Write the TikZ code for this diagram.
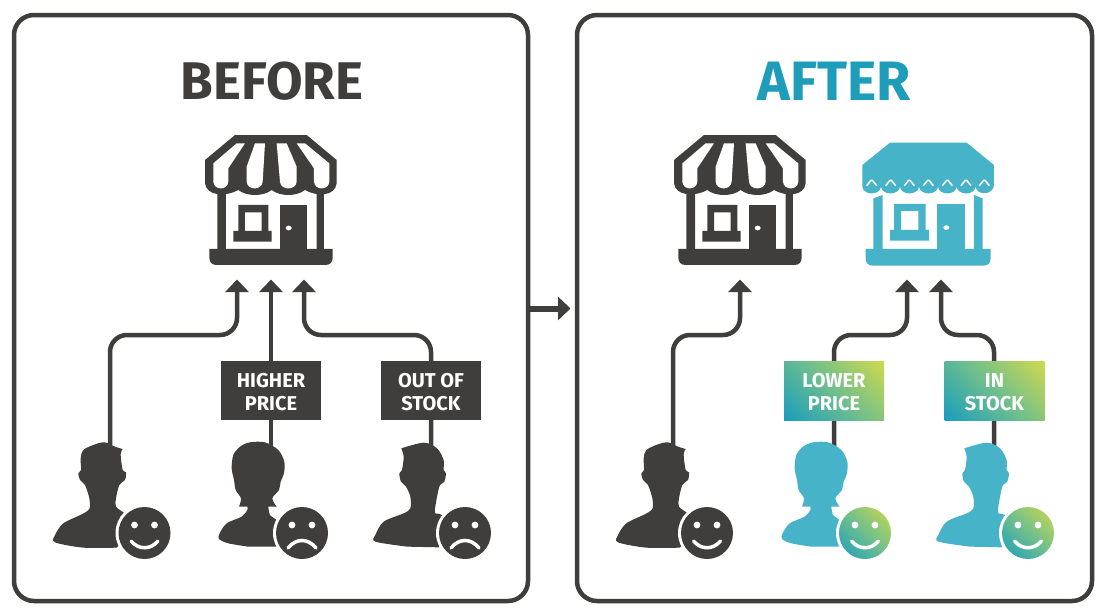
\documentclass[tikz,border=0pt]{standalone}
\usepackage{fontspec}
\setmainfont{Fira Sans}
\usetikzlibrary{arrows.meta,calc}
\definecolor{dk}{HTML}{3F3E3C}
\definecolor{bl}{HTML}{47B3C9}
\definecolor{tl}{HTML}{1E9DBB}
\definecolor{gA}{HTML}{1A9DBD}
\definecolor{gB}{HTML}{6FBF8C}
\definecolor{gC}{HTML}{CFD94D}
\pgfdeclarehorizontalshading{tealgrad}{100bp}{color(0bp)=(gA);color(15bp)=(gA);color(50bp)=(gB);color(85bp)=(gC);color(100bp)=(gC)}
\newcommand{\lift}{\rule{0pt}{17pt}}
\tikzset{
 panel/.style={draw=dk,line width=4.5pt,rounded corners=20pt,fill=white},
 tip/.style={-{Triangle[width=23pt,length=12.5pt]}},
 conn/.style={draw=dk,line width=4.5pt,rounded corners=17pt,tip},
 labelbox/.style={minimum width=100pt,minimum height=59pt,inner sep=0pt,align=center,text=white,font=\fontsize{20}{23}\selectfont\bfseries},
 darkbox/.style={labelbox,fill=dk},
 gradbox/.style={labelbox,shading=tealgrad,shading angle=45},
 title/.style={font=\fontsize{#1}{60}\selectfont\bfseries},
 zoomu/.style={x=0.3333pt,y=-0.3333pt},
 lay/.style={line cap=round,draw=white,line width=3.5pt,fill=none},
}
% store with striped awning
\newcommand{\storeA}[2]{\begin{scope}[shift={(#1,#2)},zoomu]
 \fill[dk] (135,30)--(350,30)--(440,105)--(440,175) .. controls (435,215) and (380,215) .. (345,195)
   .. controls (320,215) and (270,215) .. (245,195) .. controls (220,215) and (170,215) .. (145,195)
   .. controls (110,215) and (50,215) .. (45,175) -- (45,105) -- cycle;
 \fill[white] (70,115)--(140,55)--(165,55)--(115,130)--(115,170) .. controls (113,197) and (72,197) .. (70,170) --cycle;
 \fill[white] (195,55)--(225,55)--(218,170) .. controls (216,197) and (172,197) .. (170,170) -- (170,125)--cycle;
 \fill[white] (260,55)--(290,55)--(320,125)--(320,170) .. controls (318,197) and (272,197) .. (270,170)--cycle;
 \fill[white] (320,55)--(345,55)--(418,115)--(418,170) .. controls (416,197) and (374,197) .. (372,170)--(372,130)--cycle;
 \fill[dk] (82,200)--(108,207)--(108,380)--(82,380)--cycle;
 \fill[dk] (380,207)--(402,200)--(402,380)--(380,380)--cycle;
 \fill[dk] (58,372)--(428,372)--(428,398) .. controls (428,412) and (420,420) .. (406,420) -- (80,420) .. controls (66,420) and (58,412) .. (58,398) --cycle;
 \fill[dk,even odd rule] (145,240)--(235,240)--(235,318)--(245,318)--(245,350)--(130,350)--(130,318)--(145,318)--cycle
   (165,262)--(215,262)--(215,318)--(165,318)--cycle;
 \fill[dk] (270,240)--(352,240)--(352,375)--(270,375)--cycle;
 \fill[white] (296,309) ellipse[x radius=9,y radius=7];
\end{scope}}
% store with solid awning
\newcommand{\storeB}[2]{\begin{scope}[shift={(#1,#2)},zoomu]
 \fill[bl] (120,38)--(350,38)--(432,105)--(432,165)
   \foreach \a/\b in {433/377,377/320,320/264,264/207,207/150,150/93,93/37}{
     .. controls (\a-3,197) and (\b+3,197) .. (\b,170)}
   -- (37,105)--cycle;
 \foreach \c in {65,122,178,235,292,348,403}{
   \draw[white,line width=1.5pt] (\c-15,167)--(\c-2,151)--(\c+2,151)--(\c+15,167);}
 \fill[bl] (70,205)--(98,195)--(98,360)--(70,360)--cycle;
 \fill[bl] (372,195)--(398,205)--(398,360)--(372,360)--cycle;
 \fill[bl] (47,357)--(422,357)--(422,385) .. controls (422,399) and (414,407) .. (400,407) -- (69,407) .. controls (55,407) and (47,399) .. (47,385) --cycle;
 \fill[bl,even odd rule] (132,222)--(227,222)--(227,300)--(237,300)--(237,332)--(120,332)--(120,300)--(132,300)--cycle
   (153,243)--(205,243)--(205,300)--(153,300)--cycle;
 \fill[bl] (262,222)--(345,222)--(345,360)--(262,360)--cycle;
 \fill[white] (289,293) ellipse[x radius=9,y radius=7];
\end{scope}}
% people: #1 x, #2 y of the crop origin, #3 colour
\newcommand{\manA}[3]{\begin{scope}[shift={(#1,#2)},zoomu]
 \fill[#3] plot[smooth,tension=0.5] coordinates {(218,42)(195,35)(165,22)(135,28)(100,45)(92,70)(93,105)(85,115)(90,135)(105,150)(118,190)(118,222)(95,238)(40,265)(15,300)(15,322)(100,338)(200,338)}
  -- (235,300) -- (225,235)
  -- plot[smooth,tension=0.5] coordinates {(225,235)(198,215)(198,190)(208,150)(225,135)(228,112)(218,105)(212,58)(218,42)} -- cycle;
\end{scope}}
\newcommand{\womanA}[3]{\begin{scope}[shift={(#1,#2)},zoomu]
 \fill[#3] plot[smooth,tension=0.5] coordinates {(72,215)(78,190)(62,165)(57,135)(50,100)(55,60)(75,35)(105,22)(150,22)(190,45)(208,80)(207,115)(197,140)(192,165)(172,190)(185,215)}
  -- (160,215) -- plot[smooth,tension=0.5] coordinates {(160,215)(165,240)(185,255)(200,280)(190,335)}
  -- (100,335) -- plot[smooth,tension=0.5] coordinates {(100,335)(40,325)(12,312)(14,295)(35,265)(80,245)(97,225)(97,215)} -- cycle;
\end{scope}}
\newcommand{\manB}[3]{\begin{scope}[shift={(#1,#2)},zoomu]
 \fill[#3] plot[smooth,tension=0.5] coordinates {(583,295)(650,278)(690,295)(710,330)(710,360)(717,370)(712,395)(697,410)(685,470)(685,490)(705,495)(730,540)(695,592)}
  -- (600,590) -- plot[smooth,tension=0.5] coordinates {(600,590)(505,575)(505,555)(530,515)(590,490)(610,475)(610,440)(597,410)(582,395)(577,370)(585,360)(590,320)(583,295)} -- cycle;
\end{scope}}
% faces: #1 centre name, #2 mood
\newcommand{\eyesmouth}[2]{%
 \fill[white] ($(#1)+(-10,-8)$) circle[radius=3.4pt] ($(#1)+(10,-8)$) circle[radius=3.4pt];
 \ifnum#2=1
  \draw[lay] ($(#1)+(-13.5,8)$) .. controls ($(#1)+(-6,17)$) and ($(#1)+(6,17)$) .. ($(#1)+(13.5,8)$);
 \else
  \draw[lay] ($(#1)+(-14,15)$) .. controls ($(#1)+(-6,5)$) and ($(#1)+(6,5)$) .. ($(#1)+(14,15)$);
 \fi}
\begin{document}
\begin{tikzpicture}[x=1pt,y=-1pt]
\useasboundingbox (0,0) rectangle (1101,614);
\fill[white] (0,0) rectangle (1101,614);
\draw[panel] (14,15) rectangle (528,601);
\draw[panel] (577,15) rectangle (1092,601);
\node[title=53,text=dk] (tb) at (272,81) {BEFORE};
\node[title=55.5,text=tl] (ta) at (834,81) {AFTER};
% shops
\storeA{190}{125}
\storeA{659}{125}
\storeB{850}{130}
% anchors
\coordinate (bus) at (0,335);
\coordinate (hb1) at (110,450); \coordinate (hb2) at (271,450); \coordinate (hb3) at (431,450);
\coordinate (ha1) at (673,450); \coordinate (ha2) at (834,450); \coordinate (ha3) at (994,450);
\coordinate (tb1) at (237,279.5); \coordinate (tb2) at (271,279.5); \coordinate (tb3) at (304,279.5);
\coordinate (ta1) at (740,279.5); \coordinate (ta2) at (907,279.5); \coordinate (ta3) at (941,279.5);
% connectors
\draw[conn] (hb1) -- (hb1|-bus) -- (tb1|-bus) -- (tb1);
\draw[conn] (hb2) -- (tb2);
\draw[conn] (hb3) -- (hb3|-bus) -- (tb3|-bus) -- (tb3);
\draw[conn] (ha1) -- (ha1|-bus) -- (ta1|-bus) -- (ta1);
\draw[conn] (ha2) -- (ha2|-bus) -- (ta2|-bus) -- (ta2);
\draw[conn] (ha3) -- (ha3|-bus) -- (ta3|-bus) -- (ta3);
% labels
\node[darkbox] (lb2) at (271,390.5) {\lift HIGHER\\PRICE};
\node[darkbox] (lb3) at (431,390.5) {\lift OUT OF\\STOCK};
\node[gradbox] (la2) at (834,390.5) {\lift LOWER\\PRICE};
\node[gradbox] (la3) at (994.5,390.5) {\lift IN\\STOCK};
% people
\manA{50}{435}{dk}
\womanA{215}{435}{dk}
\manB{207}{350}{dk}
\manA{613}{435}{dk}
\womanA{778}{435}{bl}
\manB{770}{350}{bl}
% faces
\foreach \n/\x in {f1/144.5,f2/302,f3/465,f4/707,f5/865,f6/1028}{\coordinate (\n) at (\x,533);}
\foreach \n in {f1,f2,f3,f4,f5,f6}{\fill[white] (\n) circle[radius=29pt];}
\foreach \n in {f1,f2,f3,f4}{\fill[dk] (\n) circle[radius=26pt];}
\shade[shading=tealgrad,shading angle=45] (f5) circle[radius=26pt];
\shade[shading=tealgrad,shading angle=45] (f6) circle[radius=26pt];
\eyesmouth{f1}{1}
\eyesmouth{f2}{0}
\eyesmouth{f3}{0}
\eyesmouth{f4}{1}
\eyesmouth{f5}{1}
\eyesmouth{f6}{1}
% between panels
\coordinate (pa) at (530,308.5); \coordinate (pb) at (570.5,308.5);
\draw[draw=dk,line width=6pt,tip] (pa) -- (pb);
\end{tikzpicture}
\end{document}
